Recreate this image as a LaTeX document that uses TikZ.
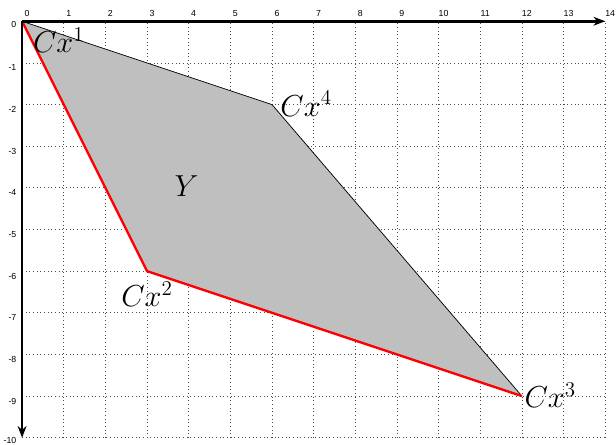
\documentclass[tikz,border=0pt]{standalone}
\usepackage{fontspec}
\setsansfont{Liberation Sans}
\usetikzlibrary{arrows.meta}
\begin{document}
\begin{tikzpicture}[
  gridline/.style={black!70, dotted, line width=0.5pt},
  axis/.style={line width=1.8pt, -{Stealth[length=8pt,width=6pt]}},
  tick/.style={font=\sffamily\fontsize{6}{7}\selectfont, inner sep=0pt},
  vlabel/.style={font=\huge, inner sep=0pt},
  edge/.style={black, line width=0.5pt},
  redge/.style={red, line width=1.6pt, line join=round}
]
\useasboundingbox (-0.53,-10.16) rectangle (14.26,0.51);
\draw[gridline] (0,-10) grid (14,0);
% polygon vertices
\coordinate (p1) at (0,0);
\coordinate (p2) at (3,-6);
\coordinate (p3) at (12,-9);
\coordinate (p4) at (6,-2);
\fill[black!25] (p1) -- (p4) -- (p3) -- (p2) -- cycle;
\draw[edge] (p1) -- (p4) -- (p3);
\draw[redge] (p1) -- (p2) -- (p3);
% axes
\coordinate (o) at (0,0);
\coordinate (xe) at (14,0);
\coordinate (ye) at (0,-10);
\draw[axis] (o) -- (xe);
\draw[axis] (o) -- (ye);
\foreach \i in {0,...,14} {
  \node[tick, anchor=south] (tx\i) at (\i+0.12,0.1) {\i};
}
\foreach \j in {0,...,9} {
  \ifnum\j=0
    \node[tick, anchor=east] (ty\j) at (-0.13,-0.08) {0};
  \else
    \node[tick, anchor=east] (ty\j) at (-0.13,-\j-0.12) {-\j};
  \fi
}
\node[tick, anchor=east] (ty10) at (-0.13,-10.06) {-10};
% labels
\node[vlabel] (l1) at (0.88,-0.45) {$Cx^1$};
\node[vlabel] (l2) at (3.0,-6.55) {$Cx^2$};
\node[vlabel] (l3) at (12.68,-8.97) {$Cx^3$};
\node[vlabel] (l4) at (6.82,-1.98) {$Cx^4$};
\node[vlabel] (ly) at (3.95,-3.95) {$Y$};
\end{tikzpicture}
\end{document}
